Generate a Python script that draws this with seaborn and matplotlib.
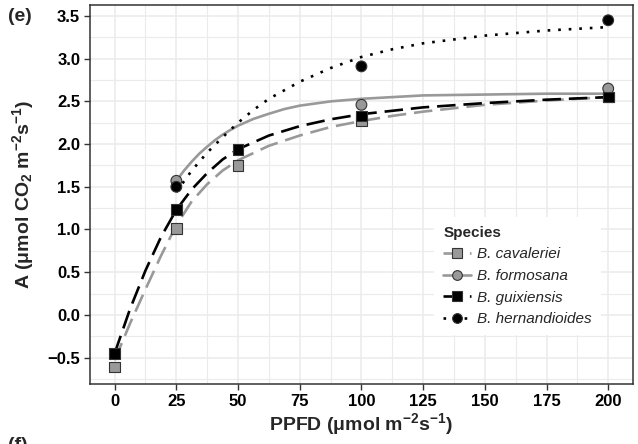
import pandas as pd
import seaborn as sns
import matplotlib.pyplot as plt
from matplotlib.lines import Line2D
from matplotlib.ticker import MultipleLocator

species = ["B. cavaleriei", "B. formosana", "B. guixiensis", "B. hernandioides"]

# measured points
cav_x = [0, 25, 50, 100, 200]
cav_y = [-0.61, 1.01, 1.75, 2.27, 2.55]
for_x = [25, 100, 200]
for_y = [1.57, 2.46, 2.65]
gui_x = [0, 25, 50, 100, 200]
gui_y = [-0.45, 1.23, 1.94, 2.33, 2.55]
her_x = [25, 100, 200]
her_y = [1.50, 2.91, 3.45]

# fitted light-response curves
cav_fx = [0, 6.25, 12.5, 18.75, 25, 31.25, 37.5, 43.75, 50, 62.5, 75, 87.5, 100, 112.5, 125, 150, 175, 200]
cav_fy = [-0.53, -0.10, 0.30, 0.69, 1.05, 1.33, 1.53, 1.69, 1.81, 1.98, 2.10, 2.20, 2.27, 2.33, 2.38, 2.46, 2.51, 2.55]
for_fx = [25, 28.125, 31.25, 34.375, 37.5, 40.625, 43.75, 46.875, 50, 56.25, 62.5, 68.75, 75, 87.5, 100, 125, 150, 175, 200]
for_fy = [1.57, 1.69, 1.795, 1.89, 1.97, 2.045, 2.11, 2.165, 2.215, 2.295, 2.355, 2.41, 2.45, 2.50, 2.53, 2.57, 2.58, 2.59, 2.59]
gui_fx = [0, 6.25, 12.5, 18.75, 25, 31.25, 37.5, 43.75, 50, 62.5, 75, 87.5, 100, 112.5, 125, 150, 175, 200]
gui_fy = [-0.45, 0.07, 0.52, 0.91, 1.23, 1.47, 1.66, 1.82, 1.94, 2.10, 2.21, 2.29, 2.35, 2.39, 2.43, 2.48, 2.52, 2.55]
her_fx = [25, 31.25, 37.5, 43.75, 50, 56.25, 62.5, 75, 87.5, 100, 112.5, 125, 150, 175, 200]
her_fy = [1.44, 1.69, 1.90, 2.08, 2.25, 2.40, 2.53, 2.73, 2.89, 3.02, 3.11, 3.18, 3.27, 3.33, 3.37]

pts = pd.concat([
    pd.DataFrame({"PPFD": cav_x, "A": cav_y, "Species": species[0]}),
    pd.DataFrame({"PPFD": for_x, "A": for_y, "Species": species[1]}),
    pd.DataFrame({"PPFD": gui_x, "A": gui_y, "Species": species[2]}),
    pd.DataFrame({"PPFD": her_x, "A": her_y, "Species": species[3]}),
])
fits = pd.concat([
    pd.DataFrame({"PPFD": cav_fx, "A": cav_fy, "Species": species[0]}),
    pd.DataFrame({"PPFD": for_fx, "A": for_fy, "Species": species[1]}),
    pd.DataFrame({"PPFD": gui_fx, "A": gui_fy, "Species": species[2]}),
    pd.DataFrame({"PPFD": her_fx, "A": her_fy, "Species": species[3]}),
])

palette = {species[0]: "#999999", species[1]: "#999999",
           species[2]: "#000000", species[3]: "#000000"}
markers = {species[0]: "s", species[1]: "o", species[2]: "s", species[3]: "o"}
# ggplot-like longdash / solid / dotted
dashes = {species[0]: (7, 3), species[1]: "", species[2]: (7, 3), species[3]: (1, 3)}

sns.set_theme(style="white")
plt.rcParams["font.family"] = ["Liberation Sans", "DejaVu Sans"]
plt.rcParams["mathtext.fontset"] = "custom"
plt.rcParams["mathtext.rm"] = "Liberation Sans:bold"
plt.rcParams["mathtext.it"] = "Liberation Sans:bold"
plt.rcParams["mathtext.bf"] = "Liberation Sans:bold"
plt.rcParams["mathtext.default"] = "rm"

fig = plt.figure(figsize=(6.38, 4.44), dpi=100)
ax = fig.add_axes([0.141, 0.135, 0.851, 0.854])

sns.lineplot(data=fits, x="PPFD", y="A", hue="Species", style="Species",
             palette=palette, dashes=dashes, linewidth=1.9, estimator=None,
             legend=False, ax=ax, zorder=2)
sns.scatterplot(data=pts, x="PPFD", y="A", hue="Species", style="Species",
                palette=palette, markers=markers, s=60, edgecolor="#333333",
                linewidth=0.8, legend=False, ax=ax, zorder=3)

ax.set_xlim(-10, 210)
ax.xaxis.set_major_locator(MultipleLocator(25))
ax.xaxis.set_minor_locator(MultipleLocator(12.5))
yt = [-0.5, 0.0, 0.5, 1.0, 1.5, 2.0, 2.5, 3.0, 3.5]
ax.set_yticks(yt)
ax.set_yticklabels([f"{v:.1f}".replace("-", "\u2212") for v in yt])
ax.yaxis.set_minor_locator(MultipleLocator(0.25))
ax.set_ylim(-0.81, 3.63)
ax.grid(which="major", color="#EBEBEB", linewidth=1.1, zorder=0)
ax.grid(which="minor", color="#EBEBEB", linewidth=0.8, zorder=0)
ax.set_axisbelow(True)
for sp in ax.spines.values():
    sp.set_color("#333333")
    sp.set_linewidth(1.1)
ax.tick_params(which="major", length=4, width=1, color="#333333",
               labelsize=12, labelcolor="black", pad=3, bottom=True, left=True)
ax.tick_params(which="minor", length=0)
for lab in ax.get_xticklabels() + ax.get_yticklabels():
    lab.set_fontweight("bold")

ax.set_xlabel("PPFD (μmol m$^{-2}$s$^{-1}$)", fontsize=14, fontweight="bold", labelpad=2)
ax.set_ylabel("A (μmol CO$_2$ m$^{-2}$s$^{-1}$)", fontsize=14, fontweight="bold", labelpad=8)

handles = []
for sp_name in species:
    handles.append(Line2D([0], [0], color=palette[sp_name], lw=1.9,
                          dashes=dashes[sp_name] if dashes[sp_name] else (None, None),
                          marker=markers[sp_name], markersize=7,
                          markerfacecolor=palette[sp_name], markeredgecolor="#333333",
                          markeredgewidth=0.8))
leg = ax.legend(handles, species, title="Species", loc="upper left",
                bbox_to_anchor=(0.62, 0.462), frameon=True, facecolor="white",
                edgecolor="none", framealpha=1, fancybox=False, fontsize=11,
                title_fontproperties={"weight": "bold", "size": 11},
                handlelength=1.8, handletextpad=0.4, labelspacing=0.5,
                alignment="left", borderpad=0.6)
for t in leg.get_texts():
    t.set_fontstyle("italic")

fig.text(0.012, 0.962, "(e)", fontsize=14, fontweight="bold", va="center")
fig.text(0.012, -0.004, "(f)", fontsize=14, fontweight="bold", va="center")

fig.savefig("out.png", dpi=100)
